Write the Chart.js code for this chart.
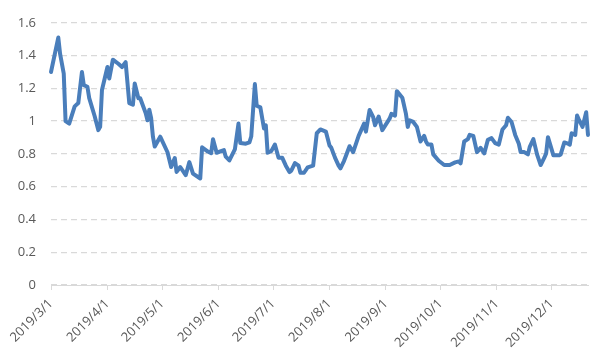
<!DOCTYPE html>
<html>
<head>
<meta charset="utf-8">
<script src="https://cdn.jsdelivr.net/npm/chart.js@4.4.1/dist/chart.umd.min.js"></script>
<style>
  html, body { margin: 0; padding: 0; background: #ffffff; }
  #wrap { width: 597px; height: 357px; position: relative; }
</style>
</head>
<body>
<div id="wrap"><canvas id="c" width="597" height="357"></canvas></div>
<script>
// ---- data ----
const dates = [
  "2019/3/1","2019/3/5","2019/3/6","2019/3/8","2019/3/9","2019/3/11","2019/3/14","2019/3/16",
  "2019/3/18","2019/3/19","2019/3/21","2019/3/22","2019/3/25","2019/3/27","2019/3/28","2019/3/29",
  "2019/4/1","2019/4/2","2019/4/4","2019/4/7","2019/4/9","2019/4/11","2019/4/13","2019/4/15",
  "2019/4/16","2019/4/18","2019/4/19","2019/4/22","2019/4/23","2019/4/24","2019/4/25","2019/4/26",
  "2019/4/27","2019/4/30","2019/5/4","2019/5/6","2019/5/8","2019/5/9","2019/5/11","2019/5/14",
  "2019/5/16","2019/5/18","2019/5/22","2019/5/23","2019/5/26","2019/5/28","2019/5/29","2019/5/31",
  "2019/6/4","2019/6/5","2019/6/7","2019/6/10","2019/6/12","2019/6/13","2019/6/16","2019/6/18",
  "2019/6/19","2019/6/21","2019/6/22","2019/6/24","2019/6/26","2019/6/27","2019/6/28","2019/6/30",
  "2019/7/2","2019/7/4","2019/7/6","2019/7/8","2019/7/10","2019/7/11","2019/7/13","2019/7/15",
  "2019/7/16","2019/7/18","2019/7/20","2019/7/23","2019/7/25","2019/7/27","2019/7/30","2019/8/1",
  "2019/8/2","2019/8/4","2019/8/6","2019/8/7","2019/8/9","2019/8/10","2019/8/12","2019/8/14",
  "2019/8/17","2019/8/20","2019/8/21","2019/8/23","2019/8/25","2019/8/26","2019/8/28","2019/8/30",
  "2019/9/3","2019/9/4","2019/9/6","2019/9/7","2019/9/10","2019/9/12","2019/9/13","2019/9/14",
  "2019/9/16","2019/9/18","2019/9/20","2019/9/22","2019/9/23","2019/9/24","2019/9/26","2019/9/27",
  "2019/9/30","2019/10/3","2019/10/6","2019/10/9","2019/10/11","2019/10/12","2019/10/14","2019/10/16",
  "2019/10/17","2019/10/19","2019/10/21","2019/10/22","2019/10/23","2019/10/25","2019/10/27","2019/10/29",
  "2019/10/31","2019/11/2","2019/11/4","2019/11/6","2019/11/7","2019/11/9","2019/11/11","2019/11/13",
  "2019/11/14","2019/11/16","2019/11/18","2019/11/19","2019/11/21","2019/11/23","2019/11/25","2019/11/27",
  "2019/11/28","2019/11/29","2019/12/2","2019/12/5","2019/12/6","2019/12/8","2019/12/10","2019/12/11",
  "2019/12/12","2019/12/14","2019/12/15","2019/12/16","2019/12/18","2019/12/20","2019/12/21"
];
const values = [
  1.30,1.51,1.41,1.29,1.00,0.985,1.09,1.11,
  1.30,1.22,1.21,1.14,1.03,0.945,0.965,1.19,
  1.33,1.26,1.375,1.35,1.33,1.36,1.11,1.10,
  1.23,1.14,1.14,1.05,1.005,1.07,1.02,0.905,
  0.845,0.905,0.81,0.72,0.775,0.69,0.72,0.67,
  0.75,0.68,0.65,0.84,0.815,0.805,0.89,0.807,
  0.823,0.783,0.76,0.827,0.985,0.866,0.862,0.87,
  0.906,1.226,1.094,1.084,0.955,0.975,0.807,0.817,
  0.857,0.777,0.777,0.728,0.689,0.698,0.744,0.728,
  0.685,0.685,0.718,0.728,0.926,0.949,0.936,0.851,
  0.837,0.777,0.728,0.712,0.758,0.787,0.847,0.811,
  0.91,0.985,0.936,1.068,1.024,0.975,1.028,0.945,
  1.015,1.044,1.034,1.183,1.143,1.044,0.965,1.005,
  0.995,0.965,0.876,0.91,0.876,0.857,0.857,0.797,
  0.758,0.732,0.732,0.748,0.754,0.742,0.876,0.89,
  0.916,0.91,0.811,0.823,0.837,0.803,0.886,0.896,
  0.866,0.857,0.949,0.975,1.021,0.995,0.916,0.862,
  0.811,0.811,0.797,0.843,0.89,0.797,0.732,0.777,
  0.803,0.902,0.791,0.791,0.797,0.87,0.862,0.857,
  0.926,0.916,1.034,1.009,0.965,1.054,0.916,0.882
];
const tickLabels = ["2019/3/1","2019/4/1","2019/5/1","2019/6/1","2019/7/1",
                    "2019/8/1","2019/9/1","2019/10/1","2019/11/1","2019/12/1"];
const yTicks = [0,0.2,0.4,0.6,0.8,1,1.2,1.4,1.6];

// ---- helpers ----
function dayNum(s) {
  const p = s.split('/').map(Number);
  return Date.UTC(p[0], p[1] - 1, p[2]) / 86400000;
}
const day0 = dayNum(dates[0]);
const points = dates.map((d, i) => ({ x: dayNum(d) - day0, y: values[i] }));
const tickPos = tickLabels.map(d => dayNum(d) - day0);

const FONT = { family: "'Open Sans', 'Liberation Sans', sans-serif", size: 13 };
const TXT = '#595959';
const GRID = '#d9d9d9';

new Chart(document.getElementById('c'), {
  type: 'line',
  data: {
    datasets: [{
      data: points,
      borderColor: '#4a7ebb',
      borderWidth: 4,
      pointRadius: 0,
      pointHoverRadius: 0,
      tension: 0,
      borderJoinStyle: 'round',
      borderCapStyle: 'round',
      clip: false,
      fill: false
    }]
  },
  options: {
    responsive: false,
    animation: false,
    events: [],
    layout: { padding: { top: 15, right: 9, left: 0, bottom: 0 } },
    plugins: { legend: { display: false }, tooltip: { enabled: false } },
    scales: {
      x: {
        type: 'linear',
        min: 0,
        max: points[points.length - 1].x,
        afterBuildTicks: s => { s.ticks = tickPos.map(v => ({ value: v })); },
        afterFit: s => { s.height = 72; },
        ticks: {
          autoSkip: false,
          maxRotation: 45,
          minRotation: 45,
          padding: 6,
          color: TXT,
          font: FONT,
          callback: (v, i) => tickLabels[i]
        },
        grid: {
          display: true,
          drawOnChartArea: false,
          drawTicks: true,
          tickLength: 5,
          tickColor: GRID,
          tickWidth: 1
        },
        border: { display: true, color: GRID, width: 1 }
      },
      y: {
        min: 0,
        max: 1.6,
        afterBuildTicks: s => { s.ticks = yTicks.map(v => ({ value: v })); },
        afterFit: s => { s.width = 51; },
        ticks: {
          padding: 15,
          color: TXT,
          font: FONT,
          callback: v => String(+v.toFixed(1))
        },
        grid: {
          color: GRID,
          lineWidth: 1.3,
          drawTicks: false
        },
        border: { display: false, dash: [6, 4] }
      }
    }
  }
});
</script>
</body>
</html>
